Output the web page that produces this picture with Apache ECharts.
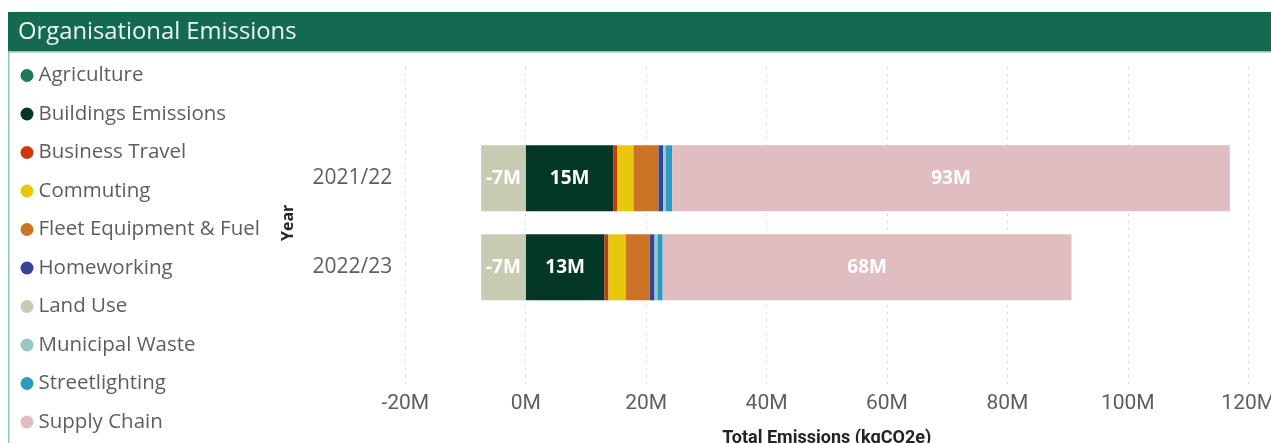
<!DOCTYPE html>
<html>
<head>
<meta charset="utf-8">
<title>Organisational Emissions</title>
<script src="https://cdn.jsdelivr.net/npm/echarts@6/dist/echarts.min.js"></script>
<style>
  html, body { margin: 0; padding: 0; background: #ffffff; }
  #chart { width: 1271px; height: 443px; }
</style>
</head>
<body>
<div id="chart"></div>
<script>
// Reporting years (rows of the stacked bar)
const years = ['2021/22', '2022/23'];

// Emission sources, in legend / stacking order
const sources = [
  'Agriculture', 'Buildings Emissions', 'Business Travel', 'Commuting',
  'Fleet Equipment & Fuel', 'Homeworking', 'Land Use', 'Municipal Waste',
  'Streetlighting', 'Supply Chain'
];

// Emissions per source, kgCO2e, one value per year
const agriculture      = [0, 0];
const buildings        = [14600000, 13100000];
const businessTravel   = [600000, 650000];
const commuting        = [2700000, 2850000];
const fleetFuel        = [4150000, 4000000];
const homeworking      = [800000, 800000];
const landUse          = [-7400000, -7400000];
const municipalWaste   = [450000, 500000];
const streetlighting   = [1050000, 850000];
const supplyChain      = [92600000, 67900000];

// X axis tick values (kgCO2e)
const axisMin = -20000000;
const axisMax = 120000000;
const axisStep = 20000000;

const seriesValues = [
  agriculture, buildings, businessTravel, commuting, fleetFuel,
  homeworking, landUse, municipalWaste, streetlighting, supplyChain
];

const colours = [
  '#1d7a5d', '#053729', '#c9390d', '#e7c80c', '#cc7325',
  '#344595', '#c7cbb2', '#97c8c5', '#2b9bc0', '#dfbdc0'
];

// Segments wide enough to carry a value label
const labelled = ['Buildings Emissions', 'Land Use', 'Supply Chain'];

const fmtM = v => Math.round(v / 1e6) + 'M';

const series = sources.map((name, i) => ({
  name: name,
  type: 'bar',
  stack: 'total',
  xAxisIndex: 1,
  yAxisIndex: 1,
  barWidth: 66,
  itemStyle: { color: colours[i] },
  emphasis: { disabled: true },
  label: {
    show: labelled.includes(name),
    position: 'inside',
    color: '#ffffff',
    fontFamily: 'Open Sans',
    fontWeight: 'bold',
    fontSize: 19,
    formatter: p => fmtM(p.value)
  },
  data: seriesValues[i]
}));

const chart = echarts.init(document.getElementById('chart'), null, { renderer: 'canvas' });

chart.setOption({
  backgroundColor: '#ffffff',
  animation: false,
  color: colours,
  graphic: [
    // header band
    { type: 'rect', left: 8, top: 12, shape: { width: 1263, height: 40 },
      style: { fill: '#136a50' }, z: 0 },
    { type: 'rect', left: 8, top: 51, shape: { width: 1263, height: 1.5 },
      style: { fill: '#8fbfae' }, z: 0 },
    // left frame line
    { type: 'rect', left: 8, top: 52, shape: { width: 1.5, height: 391 },
      style: { fill: '#8fc4b3' }, z: 0 }
  ],
  title: {
    text: 'Organisational Emissions',
    left: 18,
    top: 18.5,
    padding: 0,
    textStyle: {
      color: '#eef5f1',
      fontFamily: 'Open Sans',
      fontWeight: 'normal',
      fontSize: 23.8,
      lineHeight: 28
    }
  },
  legend: {
    orient: 'vertical',
    left: 20.5,
    top: 64.5,
    padding: 0,
    icon: 'circle',
    itemWidth: 13,
    itemHeight: 13,
    itemGap: 16.5,
    selectedMode: false,
    data: sources,
    textStyle: {
      color: '#605e5c',
      fontFamily: 'Open Sans',
      fontSize: 20.5,
      lineHeight: 22
    }
  },
  grid: [
    // frame for the value axis and its gridlines
    { left: 405.3, right: 22.8, top: 67, bottom: 58, outerBoundsMode: 'none' },
    // band holding the two year rows
    { left: 405.3, right: 22.8, top: 133.8, height: 178, outerBoundsMode: 'none' }
  ],
  xAxis: [
    {
      gridIndex: 0,
      type: 'value',
      min: axisMin,
      max: axisMax,
      interval: axisStep,
      name: 'Total Emissions (kgCO2e)',
      nameLocation: 'middle',
      nameGap: 44.5,
      nameMoveOverlap: false,
      nameTextStyle: {
        color: '#252423',
        fontFamily: 'Roboto',
        fontWeight: 'bold',
        fontSize: 18
      },
      axisLine: { show: false },
      axisTick: { show: false },
      axisLabel: {
        margin: 8,
        color: '#605e5c',
        fontFamily: 'Roboto',
        fontSize: 21,
        formatter: fmtM
      },
      splitLine: {
        show: true,
        lineStyle: { color: '#d6d6d6', width: 1, type: [2, 5] }
      }
    },
    {
      gridIndex: 1,
      type: 'value',
      min: axisMin,
      max: axisMax,
      interval: axisStep,
      show: false,
      splitLine: { show: false }
    }
  ],
  yAxis: [
    {
      gridIndex: 0,
      type: 'category',
      data: years,
      show: false
    },
    {
      gridIndex: 1,
      type: 'category',
      data: years,
      inverse: true,
      name: 'Year',
      nameLocation: 'middle',
      nameRotate: 90,
      nameGap: 109,
      nameTextStyle: {
        color: '#252423',
        fontFamily: 'Open Sans',
        fontWeight: 'bold',
        fontSize: 16
      },
      axisLine: { show: false },
      axisTick: { show: false },
      axisLabel: {
        margin: 13,
        color: '#605e5c',
        fontFamily: 'Open Sans',
        fontSize: 21
      },
      splitLine: { show: false }
    }
  ],
  series: series
});
</script>
</body>
</html>
